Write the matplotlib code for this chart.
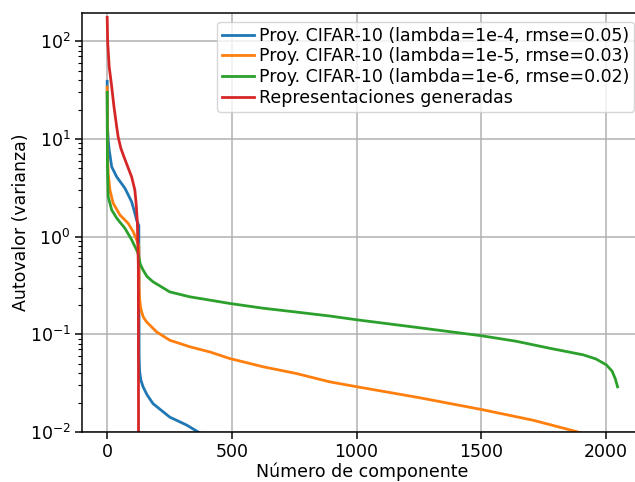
import numpy as np
import matplotlib.pyplot as plt

# eigenvalue spectra (component index, eigenvalue)
blue_x = [0, 1, 4, 8, 18, 38, 71, 98, 111, 118, 124, 127, 128, 130, 135, 144, 160, 184, 251, 318, 365, 450]
blue_y = [39, 14, 9.8, 7.75, 5.2, 4.1, 3.14, 2.28, 1.74, 1.48, 1.35, 1.3, 0.06, 0.042, 0.034, 0.029, 0.024, 0.0195, 0.0142, 0.0118, 0.0100, 0.008]

orange_x = [0, 1, 2, 4, 11, 24, 51, 84, 104, 118, 124, 127, 128, 130, 134, 138, 145, 158, 198, 251, 332, 412,
            492, 626, 759, 893, 1000, 1250, 1501, 1708, 1882, 2047]
orange_y = [34, 9, 6, 4.5, 3.0, 2.2, 1.67, 1.37, 1.13, 0.93, 0.84, 0.8, 0.3, 0.23, 0.19, 0.17, 0.15, 0.134, 0.106, 0.087, 0.0745, 0.066,
            0.0565, 0.0465, 0.0397, 0.0326, 0.0291, 0.0225, 0.017, 0.0132, 0.0101, 0.0075]

green_x = [0, 1, 4, 18, 38, 71, 98, 118, 124, 128, 133, 144, 160, 184, 251, 332, 412, 492, 626, 759, 893, 1000,
           1250, 1501, 1640, 1775, 1909, 1960, 2002, 2025, 2038, 2047]
green_y = [30, 5.2, 2.57, 1.88, 1.55, 1.22, 0.93, 0.73, 0.675, 0.6, 0.52, 0.455, 0.39, 0.345, 0.272, 0.242, 0.224, 0.207, 0.185, 0.169, 0.154, 0.141,
           0.117, 0.0967, 0.085, 0.072, 0.0617, 0.056, 0.0487, 0.042, 0.035, 0.029]

red_x = [0, 2, 8, 18, 27, 38, 44, 55, 71, 85, 98, 111, 116, 121, 125, 127]
red_y = [176, 98, 55, 34.6, 21.6, 13.4, 10.5, 8.0, 6.2, 5.0, 4.1, 3.0, 2.2, 1.4, 0.5, 1e-5]

labels = [
    "Proy. CIFAR-10 (lambda=1e-4, rmse=0.05)",
    "Proy. CIFAR-10 (lambda=1e-5, rmse=0.03)",
    "Proy. CIFAR-10 (lambda=1e-6, rmse=0.02)",
    "Representaciones generadas",
]

plt.rcParams["font.size"] = 12.5
plt.rcParams["axes.linewidth"] = 1.08
plt.rcParams["xtick.major.size"] = 4.7
plt.rcParams["ytick.major.size"] = 4.7
plt.rcParams["ytick.minor.size"] = 2.7
plt.rcParams["xtick.major.width"] = 1.08
plt.rcParams["ytick.major.width"] = 1.08
plt.rcParams["ytick.minor.width"] = 0.8

fig = plt.figure(figsize=(6.35, 4.82), dpi=100)
ax = fig.add_axes([82 / 635, 50 / 482, 561 / 635, 419 / 482])

ax.plot(blue_x, blue_y, color="C0", lw=2, label=labels[0])
ax.plot(orange_x, orange_y, color="C1", lw=2, label=labels[1])
ax.plot(green_x, green_y, color="C2", lw=2, label=labels[2])
ax.plot(red_x, red_y, color="C3", lw=2, label=labels[3])

ax.set_yscale("log")
ax.set_ylim(1e-2, 195)
ax.set_xlim(-101, 2149)
ax.set_xticks([0, 500, 1000, 1500, 2000])
ax.set_xlabel("Número de componente", labelpad=1)
ax.set_ylabel("Autovalor (varianza)", labelpad=0)
ax.grid(True, linewidth=1.08)
ax.legend(loc="upper right", handlelength=1.8, handletextpad=0.3,
          labelspacing=0.15, borderpad=0.3, borderaxespad=0.5)

fig.savefig("out.png", dpi=100)
